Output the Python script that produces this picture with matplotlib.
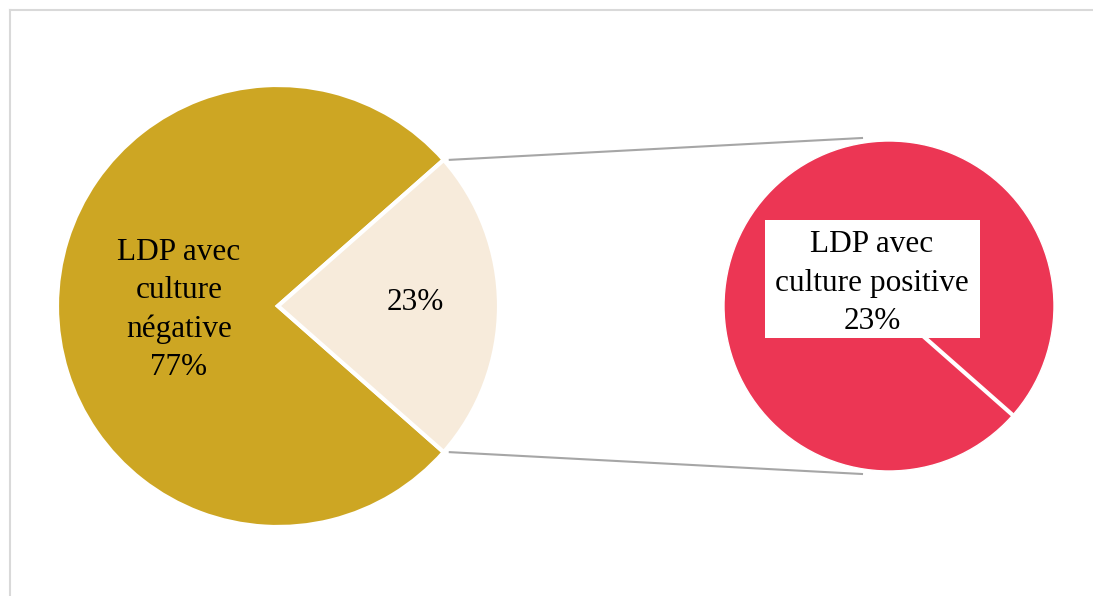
import numpy as np
import matplotlib.pyplot as plt
from matplotlib.patches import Rectangle

# data
main_labels = ['LDP avec\nculture\nnégative', 'LDP avec\nculture positive']
main_values = [77, 23]
second_values = [23]
main_colors = ['#CDA623', '#F7EBDB']
second_color = '#EC3654'

W, H = 1093, 596
plt.rcParams['font.family'] = ['Liberation Serif', 'DejaVu Serif']
fs = 22.5
ls = 1.42

fig = plt.figure(figsize=(W / 100, H / 100), dpi=100)
ax = fig.add_axes([0, 0, 1, 1])

c1, r1 = (278, 290), 221
c2, r2 = (889, 290), 165

frac = main_values[1] / sum(main_values)
half = 360 * frac / 2

ax.pie(main_values, colors=main_colors, startangle=half, center=c1, radius=r1,
       wedgeprops=dict(edgecolor='white', linewidth=3), frame=True)
ax.pie(second_values, colors=[second_color], startangle=-half, center=c2, radius=r2,
       wedgeprops=dict(edgecolor='white', linewidth=1), frame=True)
ax.set_xlim(0, W)
ax.set_ylim(0, H)
ax.set_aspect('equal')
ax.axis('off')

# frame (top + left edges visible)
ax.plot([10, W], [H - 10, H - 10], color='#d9d9d9', lw=1.5)
ax.plot([10, 10], [0, H - 10], color='#d9d9d9', lw=1.5)

# slice edge of the secondary pie
b = np.deg2rad(-half)
ax.plot([c2[0], c2[0] + r2 * np.cos(b)], [c2[1], c2[1] + r2 * np.sin(b)],
        color='white', lw=3, solid_capstyle='butt', zorder=2)

# connector lines
a = np.deg2rad(half)
p_top = (c1[0] + r1 * np.cos(a) + 6, c1[1] + r1 * np.sin(a))
p_bot = (c1[0] + r1 * np.cos(a) + 6, c1[1] - r1 * np.sin(a))
ax.plot([p_top[0], c2[0] - 27], [p_top[1], c2[1] + r2 + 3], color='#a6a6a6', lw=1.5)
ax.plot([p_bot[0], c2[0] - 27], [p_bot[1], c2[1] - r2 - 3], color='#a6a6a6', lw=1.5)

# labels
ax.text(c1[0] - 99, c1[1] - 4, f"{main_labels[0]}\n{main_values[0]}%", ha='center', va='center',
        fontsize=fs, linespacing=ls)
ax.text(c1[0] + 137, c1[1] + 3, f"{main_values[1]}%", ha='center', va='center', fontsize=fs)

ax.add_patch(Rectangle((765, H - 338), 215, 118, facecolor='white', edgecolor='none', zorder=3))
ax.text(872, H - 283, f"{main_labels[1]}\n{second_values[0]}%", ha='center', va='center',
        fontsize=fs, linespacing=ls, zorder=4)

fig.savefig('out.png', dpi=100)
